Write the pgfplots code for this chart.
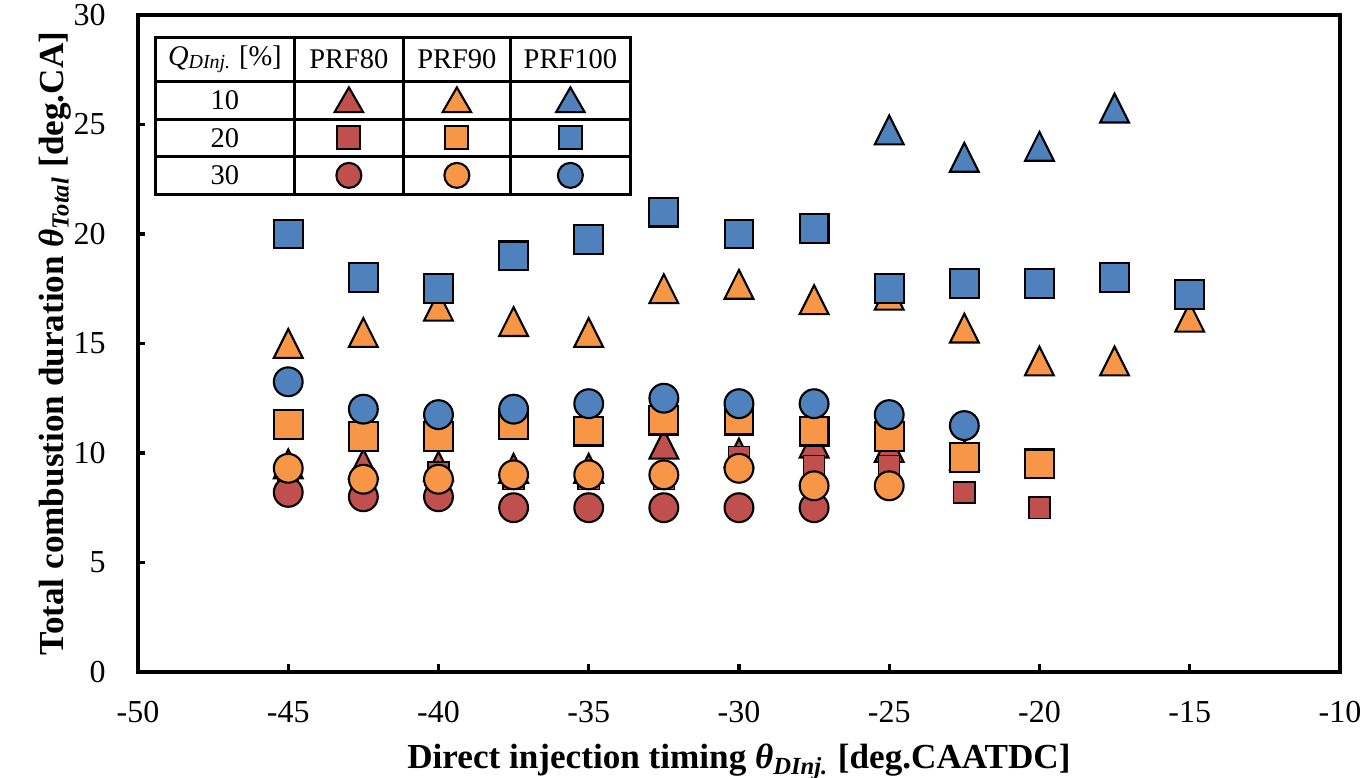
\documentclass[border=0pt]{standalone}
\usepackage{fontspec}
\setmainfont{Liberation Serif}
\usepackage{pgfplots}
\pgfplotsset{compat=1.18}
\usetikzlibrary{matrix,shapes.geometric}
\definecolor{cred}{RGB}{192,80,77}
\definecolor{corange}{RGB}{247,150,70}
\definecolor{cblue}{RGB}{79,129,189}
\pgfdeclareplotmark{tri*}{%
  \pgfpathmoveto{\pgfpoint{0pt}{\pgfplotmarksize}}%
  \pgfpathlineto{\pgfpoint{-\pgfplotmarksize}{-\pgfplotmarksize}}%
  \pgfpathlineto{\pgfpoint{\pgfplotmarksize}{-\pgfplotmarksize}}%
  \pgfpathclose
  \pgfusepathqfillstroke}
\pgfplotsset{
  tri/.style={only marks, mark=tri*, mark size=4.1pt, mark options={draw=black, line width=0.6pt, fill=#1}},
  sq/.style={only marks, mark=square*, mark size=4.1pt, mark options={draw=black, line width=0.6pt, fill=#1}},
  ci/.style={only marks, mark=*, mark size=4.1pt, mark options={draw=black, line width=0.6pt, fill=#1}},
}
\begin{document}
\begin{tikzpicture}
\begin{axis}[
  scale only axis, width=120.2mm, height=65.7mm,
  xmin=-50, xmax=-10, ymin=0, ymax=30,
  xtick={-50,-45,...,-10}, ytick={0,5,...,30},
  tick align=inside, xtick pos=left, ytick pos=left,
  major tick length=0.75mm,
  axis line style={line width=0.9pt},
  every tick/.style={black, line width=0.9pt},
  /pgf/number format/assume math mode=true,
  tick label style={font=\fontsize{9.1}{11}\selectfont},
  xticklabel style={yshift=-1.7mm},
  yticklabel style={xshift=-2.0mm},
  xlabel={\textbf{Direct injection timing \textit{θ}\textsubscript{\textit{DInj.}} [deg.CAATDC]}},
  ylabel={\textbf{Total combustion duration \textit{θ}\textsubscript{\textit{Total}} [deg.CA]}},
  xlabel style={at={(axis description cs:0.5,-0.137)}, anchor=center, font=\fontsize{10}{12}\selectfont},
  ylabel style={at={(axis description cs:-0.069,0.5)}, anchor=center, rotate=0, font=\fontsize{10}{12}\selectfont},
]
% PRF80
\addplot[tri=cred] coordinates {(-45,9.5) (-42.5,9.5) (-40,9.4) (-37.5,9.3) (-35,9.3) (-32.5,10.4) (-30,10.0) (-27.5,10.45) (-25,10.25) (-22.5,9.9)};
\addplot[only marks, mark=square*, mark size=3pt, mark options={draw=none, fill=cred}] coordinates {(-45,9.0) (-42.5,8.8) (-40,9.1) (-37.5,8.8) (-35,8.8) (-32.5,8.8) (-30,9.8) (-27.5,9.4) (-25,9.4) (-22.5,8.2) (-20,7.5)};
\addplot[ci=cred] coordinates {(-45,8.2) (-42.5,8.0) (-40,8.0) (-37.5,7.5) (-35,7.5) (-32.5,7.5) (-30,7.5) (-27.5,7.5)};
% PRF90
\addplot[tri=corange] coordinates {(-45,15.0) (-42.5,15.5) (-40,16.7) (-37.5,16.0) (-35,15.5) (-32.5,17.5) (-30,17.7) (-27.5,17.0) (-25,17.2) (-22.5,15.7) (-20,14.2) (-17.5,14.2) (-15,16.2)};
\addplot[sq=corange] coordinates {(-45,11.3) (-42.5,10.75) (-40,10.75) (-37.5,11.3) (-35,11.0) (-32.5,11.5) (-30,11.5) (-27.5,11.0) (-25,10.75) (-22.5,9.8) (-20,9.5)};
\addplot[ci=corange] coordinates {(-45,9.3) (-42.5,8.8) (-40,8.8) (-37.5,9.0) (-35,9.0) (-32.5,9.0) (-30,9.3) (-27.5,8.5) (-25,8.5)};
% PRF100
\addplot[tri=cblue] coordinates {(-25,24.75) (-22.5,23.5) (-20,24.0) (-17.5,25.75)};
\addplot[sq=cblue] coordinates {(-45,20.0) (-42.5,18.0) (-40,17.5) (-37.5,19.0) (-35,19.75) (-32.5,21.0) (-30,20.0) (-27.5,20.25) (-25,17.5) (-22.5,17.75) (-20,17.75) (-17.5,18.0) (-15,17.25)};
\addplot[ci=cblue] coordinates {(-45,13.25) (-42.5,12.0) (-40,11.75) (-37.5,12.0) (-35,12.25) (-32.5,12.5) (-30,12.25) (-27.5,12.25) (-25,11.75) (-22.5,11.25)};
\coordinate (legpos) at (rel axis cs:0.0133,0.968);
\coordinate (bbl) at (axis description cs:-0.1148,-0.1613);
\coordinate (btr) at (axis description cs:1.0225,1.0228);
\end{axis}
\matrix (L) [matrix of nodes, nodes in empty cells, anchor=north west, ampersand replacement=\&,
  inner sep=0pt, outer sep=0pt,
  column sep=-0.8pt, row sep=-0.8pt,
  nodes={draw, line width=0.8pt, inner sep=0pt, outer sep=0.4pt, anchor=center, font=\fontsize{8.1}{9.6}\selectfont},
  column 1/.style={nodes={minimum width=13.9mm}},
  column 2/.style={nodes={minimum width=10.9mm}},
  column 3/.style={nodes={minimum width=10.7mm}},
  column 4/.style={nodes={minimum width=12.0mm}},
  row 1/.style={nodes={minimum height=4.4mm}},
  row 2/.style={nodes={minimum height=3.8mm}},
  row 3/.style={nodes={minimum height=3.7mm}},
  row 4/.style={nodes={minimum height=3.8mm}},
] at (legpos) {
  \textit{Q}\textsubscript{\textit{DInj.}} [\%] \& PRF80 \& PRF90 \& PRF100 \\
  10 \& \& \& \\
  20 \& \& \& \\
  30 \& \& \& \\
};
\foreach \c/\col in {2/cred,3/corange,4/cblue}{
  \node[draw=black, line width=0.6pt, fill=\col, regular polygon, regular polygon sides=3, minimum size=3.3mm, inner sep=0pt, yshift=-0.35mm] at (L-2-\c) {};
  \node[draw=black, line width=0.6pt, fill=\col, rectangle, minimum size=2.3mm, inner sep=0pt] at (L-3-\c) {};
  \node[draw=black, line width=0.6pt, fill=\col, circle, minimum size=2.5mm, inner sep=0pt] at (L-4-\c) {};
}
\pgfresetboundingbox
\path[use as bounding box] (bbl) rectangle (btr);
\end{tikzpicture}
\end{document}
